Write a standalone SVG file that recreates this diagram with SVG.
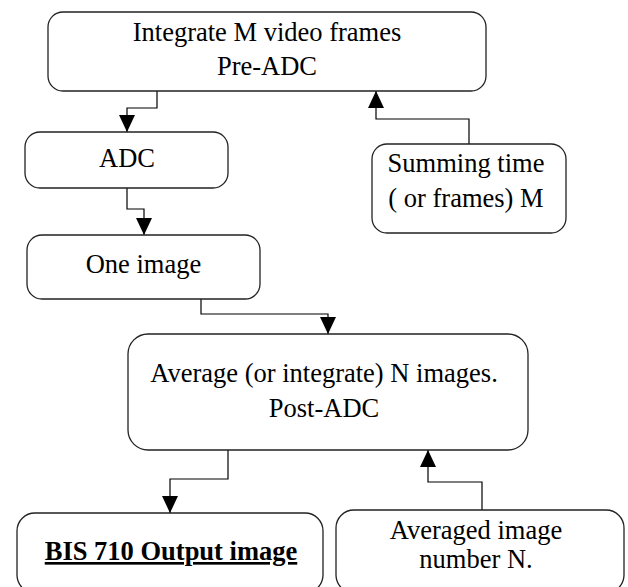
<svg xmlns="http://www.w3.org/2000/svg" width="628" height="587" viewBox="0 0 628 587">
<style>
.box{fill:#fff;stroke:#222;stroke-width:1.3}
.t{font-family:"Liberation Serif","Times New Roman",serif;font-size:26.5px;fill:#000;text-anchor:middle}
.b{font-weight:bold;text-decoration:underline}
.c{fill:none;stroke:#000;stroke-width:1.2}
</style>
<defs>
<marker id="ah" markerUnits="userSpaceOnUse" markerWidth="17" markerHeight="16" refX="17" refY="8" orient="auto" viewBox="0 0 17 16">
<path d="M0,0 L17,8 L0,16 z" fill="#000"/>
</marker>
</defs>
<rect width="628" height="587" fill="#fff"/>
<g id="connectors">
<path class="c" d="M157,91 V108 H127 V132" marker-end="url(#ah)"/>
<path class="c" d="M469,144 V119 H376 V91" marker-end="url(#ah)"/>
<path class="c" d="M127,188 V209 H144 V235" marker-end="url(#ah)"/>
<path class="c" d="M201,299 V314 H328 V334" marker-end="url(#ah)"/>
<path class="c" d="M228,450 V479 H170 V513" marker-end="url(#ah)"/>
<path class="c" d="M482,510 V482 H428 V450" marker-end="url(#ah)"/>
</g>
<g id="node-integrate">
<rect class="box" x="48" y="12" width="438" height="79" rx="15"/>
<text class="t" x="267" y="41">Integrate M video frames</text>
<text class="t" x="267" y="75">Pre-ADC</text>
</g>
<g id="node-adc">
<rect class="box" x="25" y="132" width="203" height="56" rx="15"/>
<text class="t" x="127" y="167">ADC</text>
</g>
<g id="node-summing">
<rect class="box" x="372" y="144" width="194" height="89" rx="15"/>
<text class="t" x="466" y="172">Summing time</text>
<text class="t" x="466" y="207">( or frames) M</text>
</g>
<g id="node-one-image">
<rect class="box" x="27" y="235" width="233" height="64" rx="15"/>
<text class="t" x="143.5" y="273">One image</text>
</g>
<g id="node-average">
<rect class="box" x="128" y="334" width="400" height="116" rx="20"/>
<text class="t" x="324" y="382">Average (or integrate) N images.</text>
<text class="t" x="324" y="417">Post-ADC</text>
</g>
<g id="node-output">
<rect class="box" x="17" y="513" width="306" height="80" rx="18"/>
<text class="t b" x="171" y="560">BIS 710 Output image</text>
</g>
<g id="node-averaged">
<rect class="box" x="336" y="510" width="288" height="83" rx="18"/>
<text class="t" x="476" y="539">Averaged image</text>
<text class="t" x="476" y="568">number N.</text>
</g>
</svg>
